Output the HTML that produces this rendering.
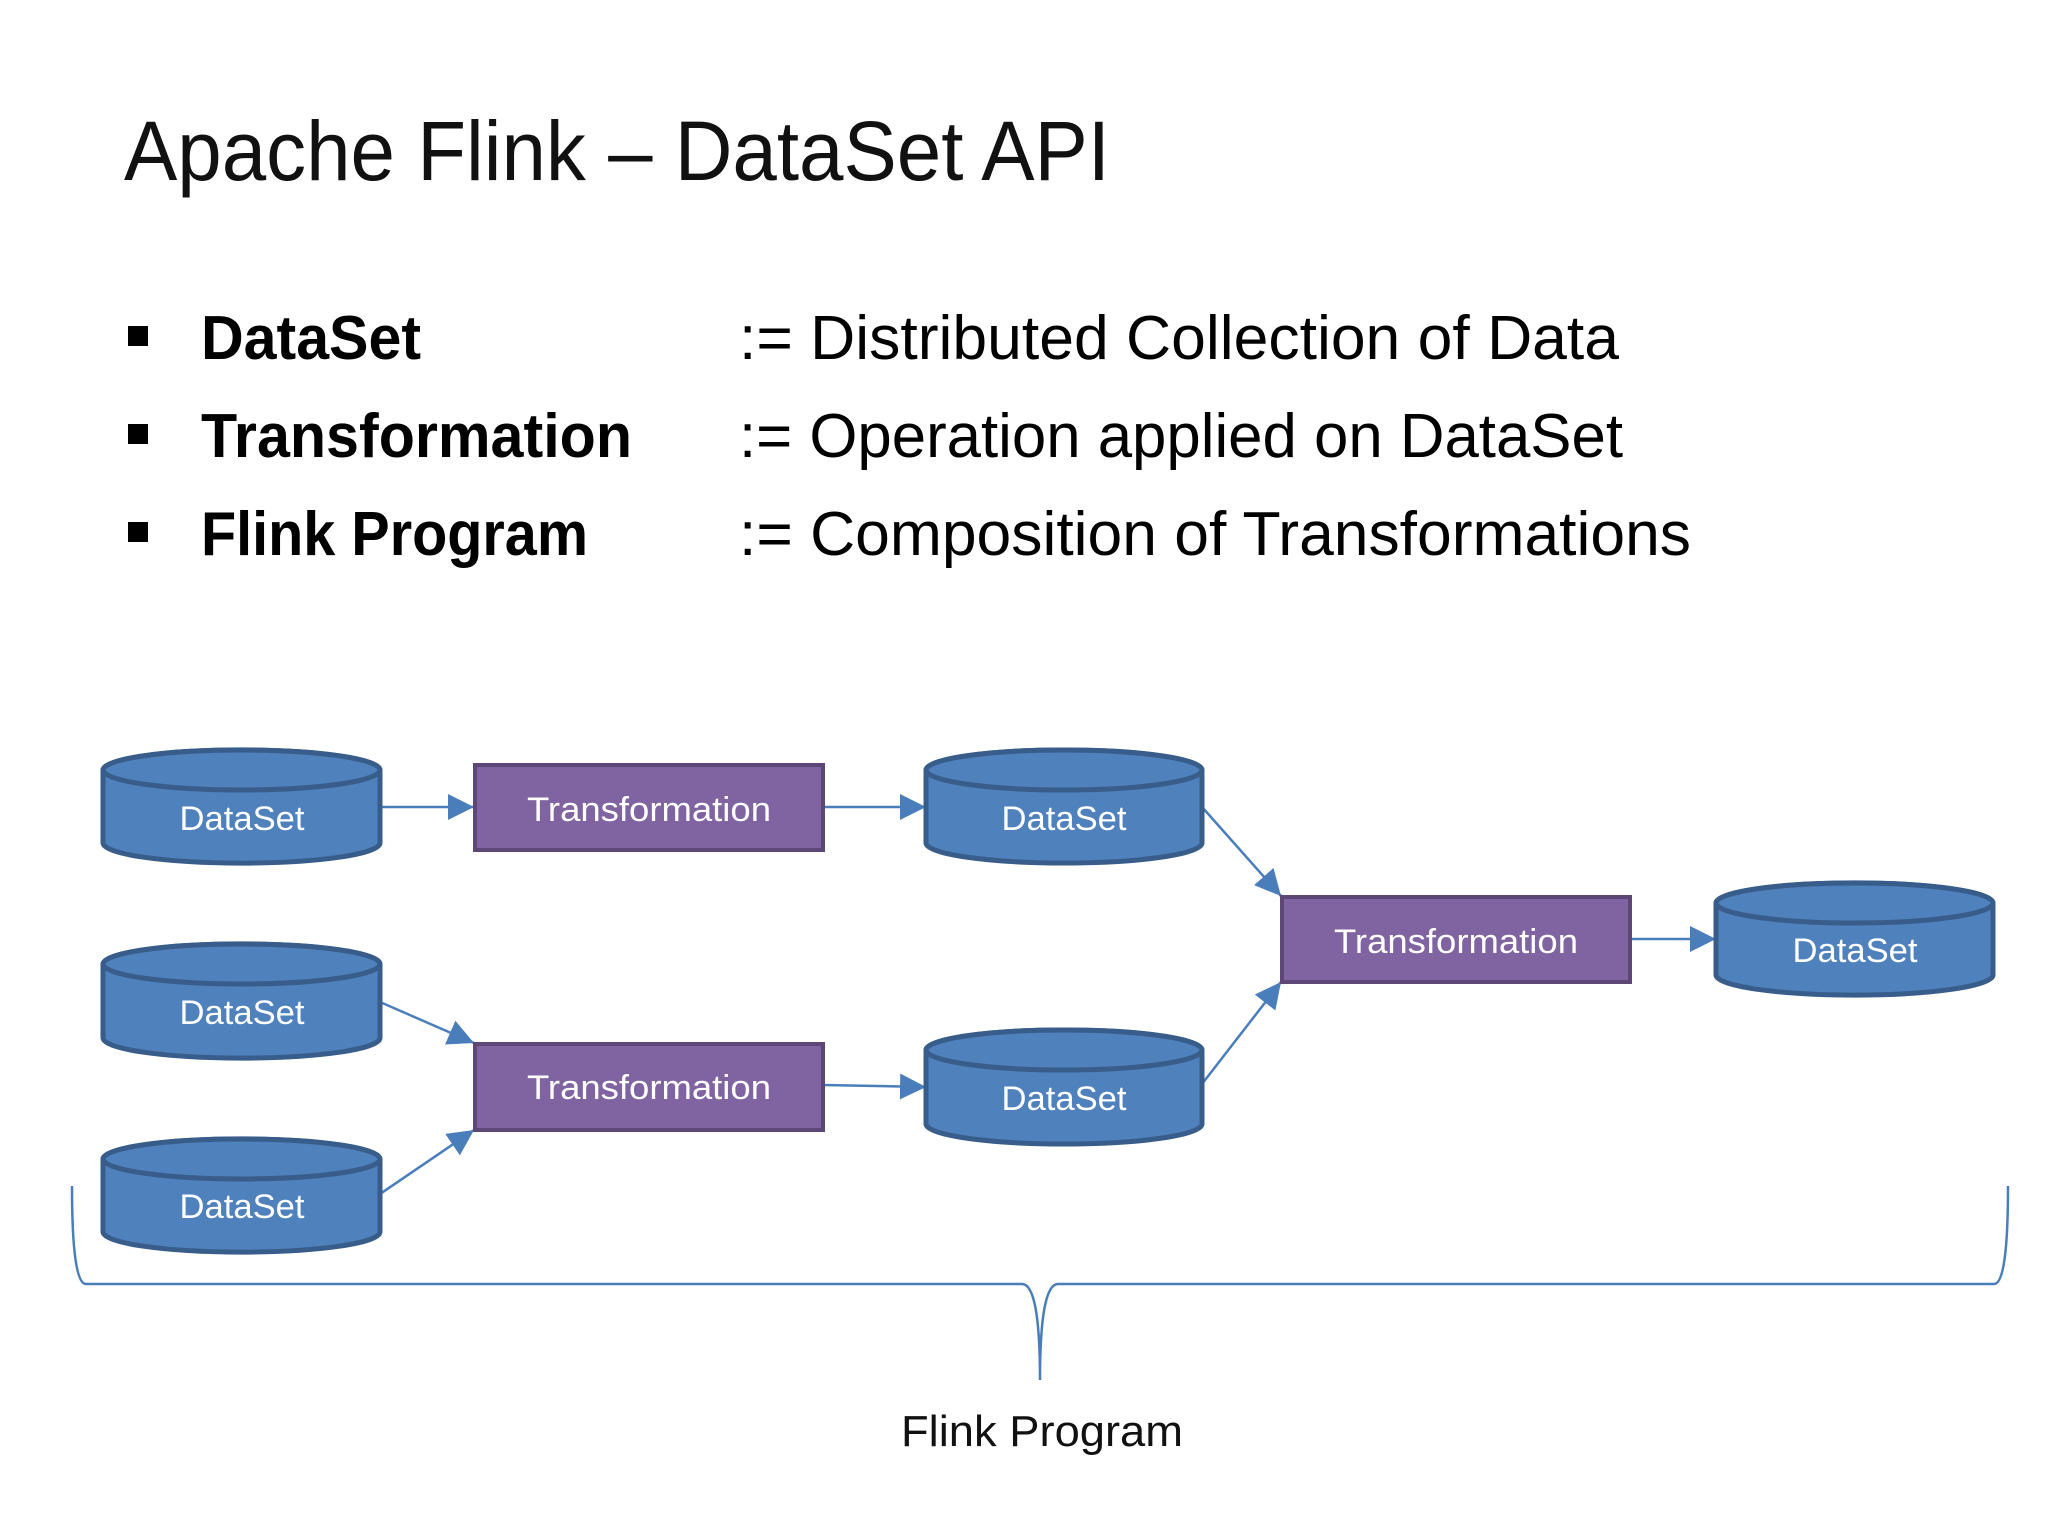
<!DOCTYPE html>
<html><head><meta charset="utf-8"><style>
html,body{margin:0;padding:0;background:#fff;}
svg{display:block;}
text{font-family:"Liberation Sans",sans-serif;}
</style></head><body>
<svg width="2048" height="1536" viewBox="0 0 2048 1536" xmlns="http://www.w3.org/2000/svg">
<defs>
<marker id="ah" markerWidth="10" markerHeight="10" refX="9" refY="5" orient="auto" markerUnits="userSpaceOnUse" viewBox="0 0 10 10">
</marker>
<marker id="a" viewBox="0 0 10 10" refX="10" refY="5" markerWidth="26" markerHeight="26" markerUnits="userSpaceOnUse" orient="auto"><path d="M0,0 L10,5 L0,10 z" fill="#4A7EBB"/></marker>
</defs>
<rect width="2048" height="1536" fill="#fff"/>
<text x="124" y="180" font-size="84" fill="#111" textLength="986" lengthAdjust="spacingAndGlyphs">Apache Flink – DataSet API</text>

<rect x="128" y="326" width="20" height="20" fill="#000"/>
<rect x="128" y="424" width="20" height="20" fill="#000"/>
<rect x="128" y="522" width="20" height="20" fill="#000"/>
<g font-size="62" fill="#000">
<text x="201" y="359" font-weight="bold" textLength="220" lengthAdjust="spacingAndGlyphs">DataSet</text>
<text x="201" y="457" font-weight="bold" textLength="431" lengthAdjust="spacingAndGlyphs">Transformation</text>
<text x="201" y="555" font-weight="bold" textLength="387" lengthAdjust="spacingAndGlyphs">Flink Program</text>
<text x="739" y="359" textLength="880" lengthAdjust="spacingAndGlyphs">:= Distributed Collection of Data</text>
<text x="739" y="457" textLength="884" lengthAdjust="spacingAndGlyphs">:= Operation applied on DataSet</text>
<text x="739" y="555" textLength="952" lengthAdjust="spacingAndGlyphs">:= Composition of Transformations</text>
</g>

<!-- connectors -->
<g stroke="#4A7EBB" stroke-width="2.5" fill="none" marker-end="url(#a)">
<line x1="380" y1="807" x2="474" y2="807"/>
<line x1="823" y1="807" x2="926" y2="807"/>
<line x1="1202" y1="807" x2="1281" y2="896"/>
<line x1="1202" y1="1084" x2="1281" y2="982"/>
<line x1="1630" y1="939" x2="1716" y2="939"/>
<line x1="380" y1="1002" x2="474" y2="1043"/>
<line x1="380" y1="1194" x2="474" y2="1130"/>
<line x1="823" y1="1085" x2="926" y2="1087"/>
</g>

<!-- cylinders -->
<g id="cyls" fill="#4F81BD" stroke="#385D8A" stroke-width="5">
<path d="M103,770 L103,843 A138,20 0 0 0 380,843 L380,770 A138,20 0 0 0 103,770 Z"/><ellipse cx="241.5" cy="770" rx="138.5" ry="20"/>
<path d="M103,964 L103,1038 A138,20 0 0 0 380,1038 L380,964 A138,20 0 0 0 103,964 Z"/><ellipse cx="241.5" cy="964" rx="138.5" ry="20"/>
<path d="M103,1159 L103,1232 A138,20 0 0 0 380,1232 L380,1159 A138,20 0 0 0 103,1159 Z"/><ellipse cx="241.5" cy="1159" rx="138.5" ry="20"/>
<path d="M926,770 L926,843 A138,20 0 0 0 1202,843 L1202,770 A138,20 0 0 0 926,770 Z"/><ellipse cx="1064" cy="770" rx="138" ry="20"/>
<path d="M926,1050 L926,1124 A138,20 0 0 0 1202,1124 L1202,1050 A138,20 0 0 0 926,1050 Z"/><ellipse cx="1064" cy="1050" rx="138" ry="20"/>
<path d="M1716,903 L1716,975 A138,20 0 0 0 1993,975 L1993,903 A138,20 0 0 0 1716,903 Z"/><ellipse cx="1854.5" cy="903" rx="138.5" ry="20"/>
</g>

<!-- transformations -->
<g fill="#8064A2" stroke="#5C4776" stroke-width="4">
<rect x="475" y="765" width="348" height="85"/>
<rect x="475" y="1044" width="348" height="86"/>
<rect x="1282" y="897" width="348" height="85"/>
</g>

<g font-size="34" fill="#fff" text-anchor="middle">
<text x="242" y="830" textLength="125" lengthAdjust="spacingAndGlyphs">DataSet</text>
<text x="242" y="1024" textLength="125" lengthAdjust="spacingAndGlyphs">DataSet</text>
<text x="242" y="1218" textLength="125" lengthAdjust="spacingAndGlyphs">DataSet</text>
<text x="1064" y="830" textLength="125" lengthAdjust="spacingAndGlyphs">DataSet</text>
<text x="1064" y="1110" textLength="125" lengthAdjust="spacingAndGlyphs">DataSet</text>
<text x="1855" y="962" textLength="125" lengthAdjust="spacingAndGlyphs">DataSet</text>
<text x="649" y="821" textLength="244" lengthAdjust="spacingAndGlyphs">Transformation</text>
<text x="649" y="1099" textLength="244" lengthAdjust="spacingAndGlyphs">Transformation</text>
<text x="1456" y="953" textLength="244" lengthAdjust="spacingAndGlyphs">Transformation</text>
</g>

<!-- brace -->
<path d="M72,1186 Q72,1284 86,1284 L1022,1284 Q1040,1284 1040,1380 Q1040,1284 1058,1284 L1994,1284 Q2008,1284 2008,1186" fill="none" stroke="#4A7EBB" stroke-width="2.5"/>
<text x="1042" y="1446" font-size="44" fill="#111" text-anchor="middle" textLength="282" lengthAdjust="spacingAndGlyphs">Flink Program</text>
</svg>
</body></html>
